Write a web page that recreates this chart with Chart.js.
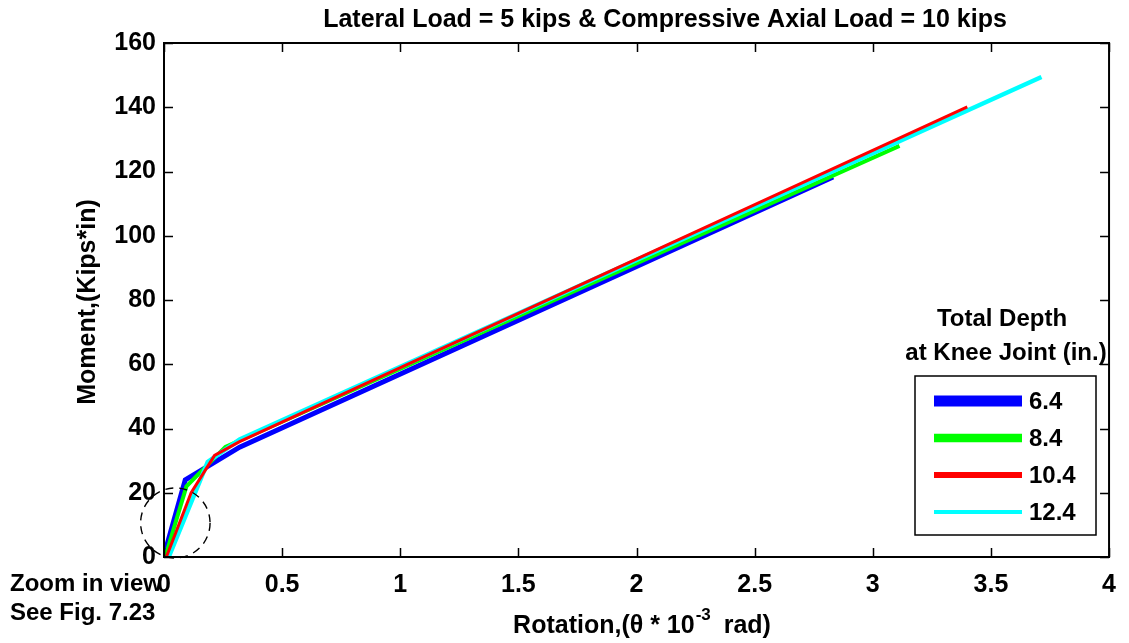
<!DOCTYPE html>
<html>
<head>
<meta charset="utf-8">
<script src="https://cdn.jsdelivr.net/npm/chart.js@4.4.1/dist/chart.umd.min.js"></script>
<style>
  html, body { margin: 0; padding: 0; background: #fff; }
  #wrap { width: 1129px; height: 643px; }
</style>
</head>
<body>
<div id="wrap"><canvas id="c" width="1129" height="643"></canvas></div>
<script>
// Moment-rotation curves of the knee joint, one per total depth
const depthLabels = ['6.4', '8.4', '10.4', '12.4'];
const seriesColors = ['#0000ff', '#00ff00', '#ff0000', '#00ffff'];

// rotation (theta * 1e-3 rad) and moment (kips*in) pairs
const rot64  = [0.0, 0.09, 0.32, 2.832];
const mom64  = [0.5, 24.0, 34.2, 118.3];
const rot84  = [0.005, 0.095, 0.26, 3.113];
const mom84  = [0.0, 22.0, 34.3, 128.0];
const rot104 = [0.01, 0.115, 0.214, 0.32, 3.40];
const mom104 = [0.0, 20.0, 31.6, 35.9, 140.1];
const rot124 = [0.02, 0.185, 0.32, 3.714];
const mom124 = [0.0, 29.6, 36.6, 149.4];

const xTicks = [0, 0.5, 1, 1.5, 2, 2.5, 3, 3.5, 4];
const xTickLabels = ['0', '0.5', '1', '1.5', '2', '2.5', '3', '3.5', '4'];
const yTicks = [0, 20, 40, 60, 80, 100, 120, 140, 160];
const yTickLabels = ['0', '20', '40', '60', '80', '100', '120', '140', '160'];

// dashed "zoom in" circle around the origin region (data units)
const zoomCircle = { x: 0.048, y: 10.6, rx: 0.147, ry: 10.9 };

const titleText = 'Lateral Load = 5 kips & Compressive Axial Load = 10 kips';
const legendTitle = ['Total Depth', 'at Knee Joint (in.)'];
const noteLines = ['Zoom in view', 'See Fig. 7.23'];

const FONT = "'Liberation Sans', Arial, sans-serif";

function pairs(xs, ys) { return xs.map((x, i) => ({ x: x, y: ys[i] })); }

const rawSeries = [[rot64, mom64], [rot84, mom84], [rot104, mom104], [rot124, mom124]];
const plotWidths = [5, 4, 3, 4.5];
const drawOrder = [4, 3, 1, 2];   // red on top, then cyan, green, blue
const legendWidths = [11, 8.5, 6, 4];

const datasets = rawSeries.map((s, i) => ({
  label: depthLabels[i],
  data: pairs(s[0], s[1]),
  borderColor: seriesColors[i],
  backgroundColor: seriesColors[i],
  borderWidth: plotWidths[i],
  pointRadius: 0,
  tension: 0,
  fill: false,
  order: drawOrder[i]
}));

const decorPlugin = {
  id: 'decor',
  afterDatasetsDraw(chart) {
    const ctx = chart.ctx;
    const xs = chart.scales.x, ys = chart.scales.y;
    const a = chart.chartArea;
    ctx.save();

    // dashed zoom circle
    const cx = xs.getPixelForValue(zoomCircle.x);
    const cy = ys.getPixelForValue(zoomCircle.y);
    const rx = xs.getPixelForValue(zoomCircle.x + zoomCircle.rx) - cx;
    const ry = cy - ys.getPixelForValue(zoomCircle.y + zoomCircle.ry);
    ctx.strokeStyle = '#000';
    ctx.lineWidth = 1.4;
    ctx.setLineDash([8, 6]);
    ctx.beginPath();
    ctx.ellipse(cx, cy, rx, ry, 0, 0, Math.PI * 2);
    ctx.stroke();
    ctx.setLineDash([]);

    // axes box
    ctx.lineWidth = 2;
    ctx.strokeStyle = '#000';
    ctx.strokeRect(a.left, a.top, a.right - a.left, a.bottom - a.top);

    // inward ticks on all four sides
    const tl = 9;
    ctx.lineWidth = 1.5;
    ctx.beginPath();
    xTicks.forEach(v => {
      const px = Math.round(xs.getPixelForValue(v)) + 0.5;
      ctx.moveTo(px, a.bottom); ctx.lineTo(px, a.bottom - tl);
      ctx.moveTo(px, a.top); ctx.lineTo(px, a.top + tl);
    });
    yTicks.forEach(v => {
      const py = Math.round(ys.getPixelForValue(v)) + 0.5;
      ctx.moveTo(a.left, py); ctx.lineTo(a.left + tl, py);
      ctx.moveTo(a.right, py); ctx.lineTo(a.right - tl, py);
    });
    ctx.stroke();

    // legend
    const lx0 = 915, ly0 = 376, lx1 = 1096, ly1 = 535;
    ctx.fillStyle = '#fff';
    ctx.fillRect(lx0, ly0, lx1 - lx0, ly1 - ly0);
    ctx.lineWidth = 1.5;
    ctx.strokeRect(lx0, ly0, lx1 - lx0, ly1 - ly0);
    ctx.font = 'bold 24px ' + FONT;
    ctx.fillStyle = '#000';
    ctx.textBaseline = 'middle';
    ctx.textAlign = 'center';
    ctx.fillText(legendTitle[0], 1002, 319);
    ctx.fillText(legendTitle[1], 1006, 353);
    ctx.textAlign = 'left';
    chart.data.datasets.forEach((ds, i) => {
      const yy = 401 + i * 37;
      ctx.strokeStyle = ds.borderColor;
      ctx.lineWidth = legendWidths[i];
      ctx.beginPath();
      ctx.moveTo(934, yy); ctx.lineTo(1022, yy);
      ctx.stroke();
      ctx.fillText(ds.label, 1029, yy + 1);
    });
    ctx.restore();
  },
  afterDraw(chart) {
    const ctx = chart.ctx;
    ctx.save();
    ctx.fillStyle = '#000';
    ctx.textBaseline = 'middle';

    // title
    ctx.font = 'bold 25px ' + FONT;
    ctx.textAlign = 'center';
    ctx.fillText(titleText, 665, 20);

    // y axis title
    ctx.save();
    ctx.translate(88, 302);
    ctx.rotate(-Math.PI / 2);
    ctx.fillText('Moment,(Kips*in)', 0, 0);
    ctx.restore();

    // x axis title with superscript exponent
    const p1 = 'Rotation,(\u03b8 * 10', sup = '-3', p2 = '  rad)';
    ctx.font = 'bold 25px ' + FONT;
    const w1 = ctx.measureText(p1).width, w3 = ctx.measureText(p2).width;
    ctx.font = 'bold 17px ' + FONT;
    const w2 = ctx.measureText(sup).width;
    let x = 642 - (w1 + w2 + w3) / 2;
    ctx.textAlign = 'left';
    ctx.font = 'bold 25px ' + FONT;
    ctx.fillText(p1, x, 626);
    ctx.font = 'bold 17px ' + FONT;
    ctx.fillText(sup, x + w1 + 1, 615);
    ctx.font = 'bold 25px ' + FONT;
    ctx.fillText(p2, x + w1 + w2, 626);

    // note below the origin
    ctx.font = 'bold 24px ' + FONT;
    ctx.fillText(noteLines[0], 10, 584);
    ctx.fillText(noteLines[1], 10, 613);
    ctx.restore();
  }
};

new Chart(document.getElementById('c'), {
  type: 'line',
  data: { datasets: datasets },
  options: {
    responsive: false,
    animation: false,
    layout: { padding: { left: 0, right: 13, top: 43, bottom: 0 } },
    plugins: { legend: { display: false }, tooltip: { enabled: false }, title: { display: false } },
    scales: {
      x: {
        type: 'linear',
        min: 0, max: 4,
        afterBuildTicks(scale) { scale.ticks = xTicks.map(v => ({ value: v })); },
        afterFit(scale) { scale.height = 86; },
        grid: { display: false, drawTicks: false },
        border: { display: false },
        ticks: {
          padding: 13,
          color: '#000',
          font: { family: FONT, size: 25, weight: 'bold' },
          maxRotation: 0,
          autoSkip: false,
          callback: (v) => xTickLabels[xTicks.indexOf(v)]
        }
      },
      y: {
        type: 'linear',
        min: 0, max: 160,
        afterBuildTicks(scale) { scale.ticks = yTicks.map(v => ({ value: v })); },
        afterFit(scale) { scale.width = 164; },
        grid: { display: false, drawTicks: false },
        border: { display: false },
        ticks: {
          padding: 8,
          color: '#000',
          font: { family: FONT, size: 25, weight: 'bold' },
          autoSkip: false,
          callback: (v) => yTickLabels[yTicks.indexOf(v)]
        }
      }
    }
  },
  plugins: [decorPlugin]
});
</script>
</body>
</html>
